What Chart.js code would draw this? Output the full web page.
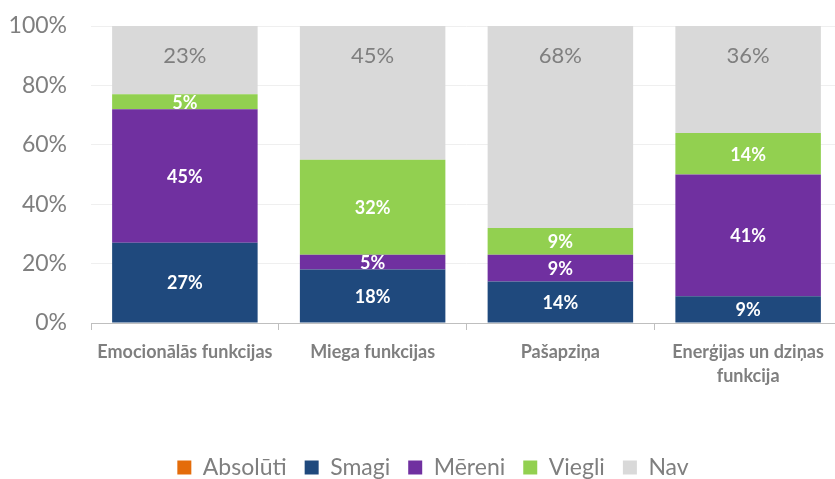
<!DOCTYPE html>
<html><head><meta charset="utf-8">
<script src="https://cdn.jsdelivr.net/npm/chart.js@4.4.1/dist/chart.umd.min.js"></script>
<style>html,body{margin:0;padding:0;background:#fff;overflow:hidden;width:835px;height:479px}</style>
</head><body><canvas id="c" width="842" height="479"></canvas>
<script>
const categories = ["Emocionālās funkcijas", "Miega funkcijas", "Pašapziņa", ["Enerģijas un dziņas", "funkcija"]];
const absoluti = [0, 0, 0, 0];
const smagi = [27, 18, 14, 9];
const mereni = [45, 5, 9, 41];
const viegli = [5, 32, 9, 14];
const nav = [23, 45, 68, 36];
const yTicks = [0, 20, 40, 60, 80, 100];

const FONT = "Lato, 'Open Sans', sans-serif";
const GREY = "#7f7f7f";

const labelPlugin = {
  id: 'segLabels',
  afterLayout(chart) {
    if (chart.legend) { chart.legend.left += 12; chart.legend.right += 12; }
  },
  afterDatasetsDraw(chart) {
    const ctx = chart.ctx;
    ctx.save();
    ctx.textAlign = 'center';
    ctx.textBaseline = 'middle';
    chart.data.datasets.forEach((ds, di) => {
      const meta = chart.getDatasetMeta(di);
      meta.data.forEach((bar, i) => {
        const v = ds.data[i];
        if (!v) return;
        const top = Math.min(bar.y, bar.base), bot = Math.max(bar.y, bar.base);
        if (ds.label === 'Nav') {
          ctx.fillStyle = GREY;
          ctx.font = "22px " + FONT;
          ctx.fillText(v + '%', bar.x, top + 30);
        } else {
          ctx.fillStyle = '#ffffff';
          ctx.font = "bold 18px " + FONT;
          ctx.fillText(v + '%', bar.x, (top + bot) / 2 + 1);
        }
      });
    });
    ctx.restore();
  }
};

new Chart(document.getElementById('c'), {
  type: 'bar',
  data: {
    labels: categories,
    datasets: [
      { label: 'Absolūti', data: absoluti, backgroundColor: '#E46C0A' },
      { label: 'Smagi', data: smagi, backgroundColor: '#1F497D' },
      { label: 'Mēreni', data: mereni, backgroundColor: '#7030A0' },
      { label: 'Viegli', data: viegli, backgroundColor: '#92D050' },
      { label: 'Nav', data: nav, backgroundColor: '#D9D9D9' }
    ]
  },
  options: {
    responsive: false,
    animation: false,
    devicePixelRatio: 1,
    layout: { padding: { top: 26, right: 0, left: 0, bottom: -10 } },
    datasets: { bar: { categoryPercentage: 1, barPercentage: 0.775 } },
    scales: {
      x: {
        stacked: true,
        grid: { display: true, drawOnChartArea: false, drawTicks: true, tickLength: 7, color: '#bfbfbf', offset: true },
        border: { display: true, color: '#bfbfbf' },
        ticks: { color: GREY, font: { family: FONT, size: 18, weight: 'bold', lineHeight: 1.35 }, maxRotation: 0, autoSkip: false, padding: 10 },
        afterFit(s) { s.height = 115; s.paddingLeft = 0; s.paddingRight = 0; }
      },
      y: {
        stacked: true,
        min: 0, max: 100,
        afterBuildTicks(s) { s.ticks = yTicks.map(v => ({ value: v })); },
        grid: { color: '#efefef', drawTicks: false },
        border: { display: false },
        ticks: { color: GREY, font: { family: FONT, size: 23 }, padding: 24, callback: v => v + '%' },
        afterFit(s) { s.width = 91; s.paddingTop = 0; s.paddingBottom = 0; }
      }
    },
    plugins: {
      legend: {
        position: 'bottom',
        labels: { color: GREY, font: { family: FONT, size: 23 }, boxWidth: 14, boxHeight: 14, padding: 18 }
      },
      tooltip: { enabled: false }
    }
  },
  plugins: [labelPlugin]
});
</script>
</body></html>
